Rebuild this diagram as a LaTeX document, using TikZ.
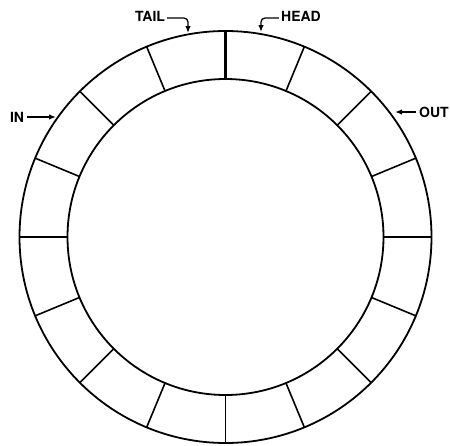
\documentclass[tikz,border=0pt]{standalone}
\usepackage{fontspec}
\setmainfont{TeX Gyre Heros}
\usetikzlibrary{arrows.meta,calc}
\begin{document}
\begin{tikzpicture}[x=1pt,y=-1pt,
  ring/.style={line width=1.8pt},
  spoke/.style={line width=1.6pt},
  thickspoke/.style={line width=3.6pt},
  lbl/.style={font=\bfseries\fontsize{14}{16}\selectfont, inner sep=0pt},
  ptr/.style={line width=1.3pt, -{Latex[length=7pt,width=5.5pt]}, rounded corners=4pt}]
\useasboundingbox (0,0) rectangle (450,445);
\coordinate (c) at (225.5,237);
\draw[ring] (c) circle[radius=206];
\draw[ring] (c) circle[radius=158];
\foreach \a in {0,22.5,...,247.5,292.5,315,337.5}{
  \draw[spoke] ($(c)+(\a:158)$) -- ($(c)+(\a:206)$);
}
\draw[thickspoke] ($(c)+(270:158)$) -- ($(c)+(270:206)$);
\node[lbl] (tail) at (150,16) {TAIL};
\node[lbl] (head) at (301,16) {HEAD};
\node[lbl] (in) at (17,117) {IN};
\node[lbl] (out) at (434,112) {OUT};
\coordinate (tailtip) at (188,33);
\coordinate (headtip) at (261,32);
\coordinate (intip) at (56,117);
\coordinate (outtip) at (395,112);
\draw[ptr] ([xshift=2pt,yshift=-2pt]tail.east) -| (tailtip);
\draw[ptr] ([xshift=-2pt,yshift=-2pt]head.west) -| (headtip);
\draw[ptr] ([xshift=3pt]in.east) -- (intip);
\draw[ptr] ([xshift=-3pt]out.west) -- (outtip);
\end{tikzpicture}
\end{document}
